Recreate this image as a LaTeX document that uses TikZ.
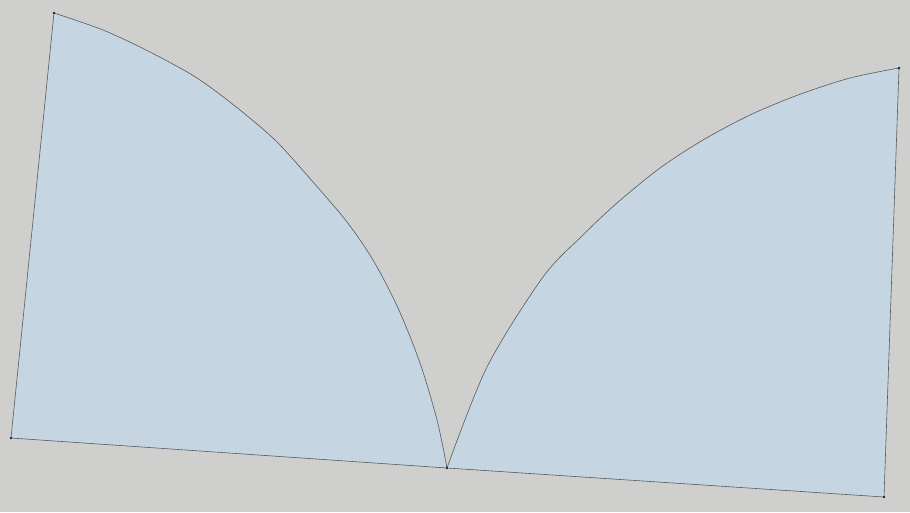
\documentclass[tikz,border=0pt]{standalone}
\usepackage{tikz}
\definecolor{groundgray}{HTML}{CFCFCD}
\definecolor{faceblue}{HTML}{C5D5E1}
\definecolor{edgegray}{HTML}{555B5E}
\tikzset{face/.style={fill=faceblue, draw=edgegray, line width=0.6pt, line join=round},
	vertex/.style={circle, fill=black!85, inner sep=0pt, minimum size=2.6pt}}

\begin{document}
\begin{tikzpicture}[x=1pt, y=-1pt]
		\fill[groundgray] (0,0) rectangle (910,512);
		\useasboundingbox (0,0) rectangle (910,512);
		\coordinate (lt) at (54,13);
		\coordinate (lb) at (11,438);
		\coordinate (mid) at (447,468);
		\coordinate (rt) at (899,68);
		\coordinate (rb) at (884,497);
		% left face
		\draw[face] (lb) -- plot[smooth, tension=0.5] coordinates {(54,13) (103,30) (150,52) (197,78) (240,110) (277,142) (313,182) (347,222) (373,260) (398,308) (420,363) (437,420) (447,468)} -- cycle;
		% right face
		\draw[face] (rb) -- plot[smooth, tension=0.5] coordinates {(447,468) (487,367) (543,277) (583,235) (617,203) (660,168) (703,140) (750,115) (798,95) (850,78) (899,68)} -- cycle;
		\foreach \v in {lt,lb,mid,rt,rb}
			\node[vertex] at (\v) {};
	\end{tikzpicture}
\end{document}
